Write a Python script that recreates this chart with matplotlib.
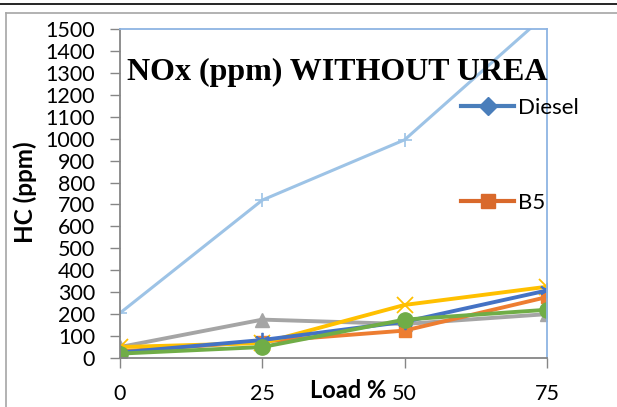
import matplotlib.pyplot as plt
from matplotlib.lines import Line2D

# data
load = [0, 25, 50, 75]
series_lightblue = [205, 720, 995, 1570]
series_gray = [50, 175, 155, 200]
series_orange = [30, 75, 125, 278]
series_yellow = [50, 68, 242, 325]
series_blue = [25, 82, 165, 308]
series_green = [20, 50, 175, 220]
legend_labels = ["Diesel", "B5"]
yticks = list(range(0, 1501, 100))

fig = plt.figure(figsize=(6.17, 4.07), dpi=100)
ax = fig.add_axes([120 / 617, 1 - 358 / 407, 427 / 617, 329 / 407])

lw = 2.8
ax.plot(load, series_lightblue, color="#9DC3E6", lw=2.2, marker="+", ms=10, mew=1.2)
ax.plot(load, series_gray, color="#A5A5A5", lw=lw, marker="^", ms=10)
ax.plot(load, series_orange, color="#ED7D31", lw=lw, marker="s", ms=9)
ax.plot(load, series_yellow, color="#FFC000", lw=lw, marker="x", ms=11, mew=1.3)
ax.plot(load, series_blue, color="#4472C4", lw=lw, marker=(6, 2, 0), ms=11, mew=1.3)
ax.plot(load, series_green, color="#70AD47", lw=lw, marker="o", ms=11)

ax.set_xlim(0, 75)
ax.set_ylim(0, 1500)
ax.set_xticks(load)
ax.set_yticks(yticks)

tick_font = dict(family="Lato", size=15.5)
ax.set_xticklabels([str(v) for v in load], **tick_font)
ax.set_yticklabels([str(v) for v in yticks], **tick_font)
ax.tick_params(axis="both", direction="out", length=7, width=1, color="#868686")
ax.tick_params(axis="y", pad=11)
ax.tick_params(axis="x", pad=12)

for side in ["left", "bottom"]:
    ax.spines[side].set_color("#868686")
    ax.spines[side].set_linewidth(1.3)
for side in ["top", "right"]:
    ax.spines[side].set_color("#8EB4E3")
    ax.spines[side].set_linewidth(1.3)

# title and axis labels
fig.text(127 / 617, 1 - 80 / 407, "NOx (ppm) WITHOUT UREA", family="Liberation Serif",
         weight="bold", size=23, ha="left", va="baseline")
fig.text(25 / 617, 1 - 192 / 407, "HC (ppm)", family="Lato", weight="bold", size=17.5,
         rotation=90, ha="center", va="center")
fig.text(386 / 617, 1 - 391 / 407, "Load %", family="Lato", weight="bold", size=17,
         ha="right", va="center")

# legend (only two entries shown in the original)
handles = [
    Line2D([], [], color="#4A7EBB", lw=3, marker="D", ms=9),
    Line2D([], [], color="#D9692B", lw=3, marker="s", ms=10),
]
leg = fig.legend(handles, legend_labels, loc="upper left",
                 bbox_to_anchor=(450 / 617, 1 - 87 / 407), frameon=False,
                 prop=dict(family="Lato", size=16), handlelength=2.4,
                 handletextpad=0.15, labelspacing=3.35, borderpad=0)

# page lines around the chart
fig.add_artist(Line2D([0, 1], [1 - 4 / 407, 1 - 4 / 407], color="black", lw=1.2,
                      transform=fig.transFigure))
fig.add_artist(Line2D([6 / 617, 1], [1 - 13 / 407, 1 - 13 / 407], color="#A6A6A6", lw=1.2,
                      transform=fig.transFigure))
fig.add_artist(Line2D([6 / 617, 6 / 617], [0, 1 - 13 / 407], color="#A6A6A6", lw=1.2,
                      transform=fig.transFigure))

fig.savefig("out.png", dpi=100)
